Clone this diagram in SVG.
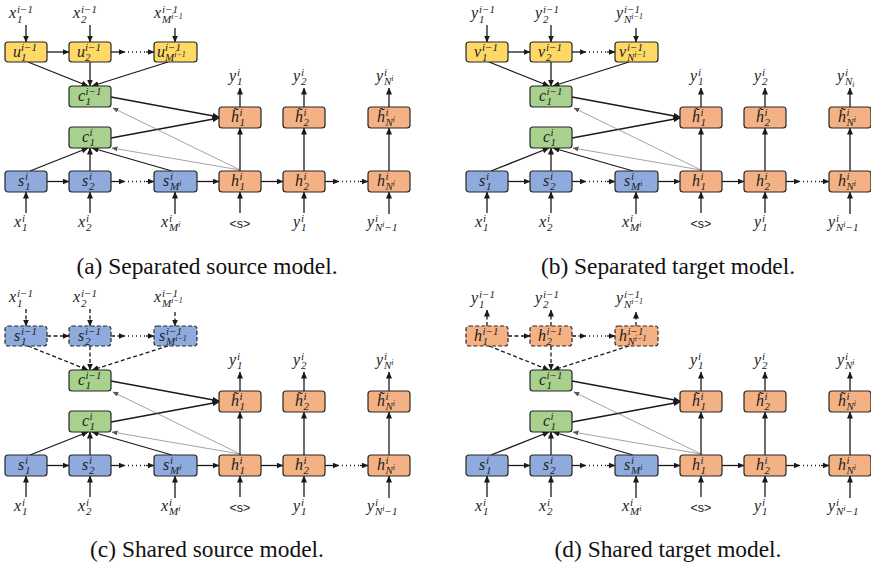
<svg xmlns="http://www.w3.org/2000/svg" width="871" height="568" viewBox="0 0 871 568">
<style>
  .box { stroke: #262626; stroke-width: 1.2; }
  .dash { stroke-dasharray: 4 2.2; }
  .yel { fill: #FFD966; }
  .grn { fill: #A9D18E; }
  .blu { fill: #8FAADC; }
  .org { fill: #F4B183; }
  .m { font-family: "Liberation Serif", "DejaVu Serif", serif; font-style: italic; font-size: 16px; fill: #222; }
  .s { font-size: 11px; }
  .t { font-size: 8px; }
  .sans { font-family: "Liberation Sans", Arial, sans-serif; font-size: 12.5px; fill: #222; }
  .cap { font-family: "Liberation Serif", "Times New Roman", serif; font-size: 23.4px; fill: #111; }
  .e { stroke: #1a1a1a; stroke-width: 1.3; fill: none; marker-end: url(#ah); }
  .ed { stroke: #1a1a1a; stroke-width: 1.3; fill: none; stroke-dasharray: 4 2.5; marker-end: url(#ah); }
  .th { stroke: #666; stroke-width: 0.6; fill: none; marker-end: url(#ahs); }
  .dot { stroke: #1a1a1a; stroke-width: 1.3; fill: none; stroke-dasharray: 1 3; }
</style>
<defs>
  <marker id="ah" markerWidth="7" markerHeight="6" refX="6.5" refY="3" orient="auto" markerUnits="userSpaceOnUse">
    <path d="M0,0 L7,3 L0,6 z" fill="#1a1a1a"/>
  </marker>
  <marker id="ahs" markerWidth="6" markerHeight="5" refX="5.5" refY="2.5" orient="auto" markerUnits="userSpaceOnUse">
    <path d="M0,0 L6,2.5 L0,5 z" fill="#555"/>
  </marker>
</defs>
<rect width="871" height="568" fill="#fff"/>

<!-- ===== (a) Separated source model ===== -->
<g id="panel-a">
  <g id="a-edges">
    <line class="e" x1="26" y1="25" x2="26" y2="42"/>
    <line class="e" x1="90" y1="25" x2="90" y2="42"/>
    <line class="e" x1="175" y1="28" x2="175" y2="42"/>
    <line class="e" x1="47" y1="52" x2="69" y2="52"/>
    <line class="e" x1="111" y1="52" x2="125" y2="52"/>
    <line class="dot" x1="128" y1="52" x2="146" y2="52"/>
    <line class="e" x1="146" y1="52" x2="154" y2="52"/>
    <line class="e" x1="28" y1="62" x2="88" y2="86"/>
    <line class="e" x1="90" y1="62" x2="90" y2="86"/>
    <line class="e" x1="168" y1="62" x2="92" y2="86"/>
    <line class="e" x1="111" y1="97" x2="219" y2="117"/>
    <line class="e" x1="111" y1="138" x2="219" y2="118"/>
    <line class="th" x1="240" y1="170" x2="113" y2="108"/>
    <line class="th" x1="240" y1="170" x2="112" y2="148"/>
    <line class="e" x1="30" y1="171" x2="88" y2="148"/>
    <line class="e" x1="90" y1="171" x2="90" y2="148"/>
    <line class="e" x1="172" y1="171" x2="92" y2="148"/>
    <line class="e" x1="47" y1="181.5" x2="69" y2="181.5"/>
    <line class="e" x1="111" y1="181.5" x2="125" y2="181.5"/>
    <line class="dot" x1="128" y1="181.5" x2="146" y2="181.5"/>
    <line class="e" x1="146" y1="181.5" x2="154" y2="181.5"/>
    <line class="e" x1="197" y1="181.5" x2="219" y2="181.5"/>
    <line class="e" x1="261" y1="181.5" x2="283" y2="181.5"/>
    <line class="e" x1="325" y1="181.5" x2="339" y2="181.5"/>
    <line class="dot" x1="342" y1="181.5" x2="360" y2="181.5"/>
    <line class="e" x1="360" y1="181.5" x2="368" y2="181.5"/>
    <line class="e" x1="240" y1="171" x2="240" y2="128"/>
    <line class="e" x1="304" y1="171" x2="304" y2="128"/>
    <line class="e" x1="389" y1="171" x2="389" y2="128"/>
    <line class="e" x1="240" y1="107" x2="240" y2="88"/>
    <line class="e" x1="304" y1="107" x2="304" y2="88"/>
    <line class="e" x1="389" y1="107" x2="389" y2="88"/>
    <line class="e" x1="26" y1="213" x2="26" y2="192"/>
    <line class="e" x1="90" y1="213" x2="90" y2="192"/>
    <line class="e" x1="175" y1="214" x2="175" y2="192"/>
    <line class="e" x1="240" y1="213" x2="240" y2="192"/>
    <line class="e" x1="304" y1="213" x2="304" y2="192"/>
    <line class="e" x1="389" y1="214" x2="389" y2="192"/>
  </g>
  <g id="a-u1"><rect class="box yel" x="5" y="42" width="42" height="20" rx="3"/><text class="m" x="13" y="57">u<tspan class="s" x="21" y="50.5">i−1</tspan><tspan class="s" x="21" y="60.5">1</tspan></text></g>
  <g id="a-u2"><rect class="box yel" x="69" y="42" width="42" height="20" rx="3"/><text class="m" x="77" y="57">u<tspan class="s" x="85" y="50.5">i−1</tspan><tspan class="s" x="85" y="60.5">2</tspan></text></g>
  <g id="a-u3"><rect class="box yel" x="154" y="42" width="43" height="20" rx="3"/><text class="m" x="157" y="57">u<tspan class="s" x="165" y="50.5">i−1</tspan><tspan class="s" x="165" y="60.5">M</tspan><tspan class="t" y="57">i−1</tspan></text></g>
  <g id="a-cp"><rect class="box grn" x="69" y="86" width="42" height="21" rx="3"/><text class="m" x="78" y="101">c<tspan class="s" x="85.5" y="94.5">i−1</tspan><tspan class="s" x="85.5" y="104.5">1</tspan></text></g>
  <g id="a-ht1"><rect class="box org" x="219" y="107" width="42" height="21" rx="3"/><text class="m" x="231" y="122">h&#x303;<tspan class="s" x="239.5" y="115.5">i</tspan><tspan class="s" x="239.5" y="125.5">1</tspan></text></g>
  <g id="a-ht2"><rect class="box org" x="283" y="107" width="42" height="21" rx="3"/><text class="m" x="295" y="122">h&#x303;<tspan class="s" x="303.5" y="115.5">i</tspan><tspan class="s" x="303.5" y="125.5">2</tspan></text></g>
  <g id="a-ht3"><rect class="box org" x="368" y="107" width="42" height="21" rx="3"/><text class="m" x="377" y="122">h&#x303;<tspan class="s" x="385.5" y="115.5">i</tspan><tspan class="s" x="385.5" y="125.5">N</tspan><tspan class="t" y="122">i</tspan></text></g>
  <g id="a-cc"><rect class="box grn" x="69" y="127" width="42" height="21" rx="3"/><text class="m" x="82" y="142">c<tspan class="s" x="89.5" y="135.5">i</tspan><tspan class="s" x="89.5" y="145.5">1</tspan></text></g>
  <g id="a-s1"><rect class="box blu" x="5" y="171" width="42" height="21" rx="3"/><text class="m" x="18" y="186">s<tspan class="s" x="25" y="179.5">i</tspan><tspan class="s" x="25" y="189.5">1</tspan></text></g>
  <g id="a-s2"><rect class="box blu" x="69" y="171" width="42" height="21" rx="3"/><text class="m" x="82" y="186">s<tspan class="s" x="89" y="179.5">i</tspan><tspan class="s" x="89" y="189.5">2</tspan></text></g>
  <g id="a-s3"><rect class="box blu" x="154" y="171" width="43" height="21" rx="3"/><text class="m" x="163" y="186">s<tspan class="s" x="170" y="179.5">i</tspan><tspan class="s" x="170" y="189.5">M</tspan><tspan class="t" y="186">i</tspan></text></g>
  <g id="a-h1"><rect class="box org" x="219" y="171" width="42" height="21" rx="3"/><text class="m" x="231" y="186">h<tspan class="s" x="239.5" y="179.5">i</tspan><tspan class="s" x="239.5" y="189.5">1</tspan></text></g>
  <g id="a-h2"><rect class="box org" x="283" y="171" width="42" height="21" rx="3"/><text class="m" x="295" y="186">h<tspan class="s" x="303.5" y="179.5">i</tspan><tspan class="s" x="303.5" y="189.5">2</tspan></text></g>
  <g id="a-h3"><rect class="box org" x="368" y="171" width="42" height="21" rx="3"/><text class="m" x="377" y="186">h<tspan class="s" x="385.5" y="179.5">i</tspan><tspan class="s" x="385.5" y="189.5">N</tspan><tspan class="t" y="186">i</tspan></text></g>
  <g id="a-labels">
    <text class="m" x="9" y="18">x<tspan class="s" x="17" y="12.5">i−1</tspan><tspan class="s" x="17" y="22.5">1</tspan></text>
    <text class="m" x="73" y="18">x<tspan class="s" x="81" y="12.5">i−1</tspan><tspan class="s" x="81" y="22.5">2</tspan></text>
    <text class="m" x="154" y="18">x<tspan class="s" x="162" y="12.5">i−1</tspan><tspan class="s" x="162" y="22.5">M</tspan><tspan class="t" y="18.5">i−1</tspan></text>
    <text class="m" x="229" y="81">y<tspan class="s" x="237" y="75.5">i</tspan><tspan class="s" x="237" y="85">1</tspan></text>
    <text class="m" x="293" y="81">y<tspan class="s" x="301" y="75.5">i</tspan><tspan class="s" x="301" y="85">2</tspan></text>
    <text class="m" x="376" y="81">y<tspan class="s" x="384" y="75.5">i</tspan><tspan class="s" x="384" y="85">N</tspan><tspan class="t" y="81">i</tspan></text>
    <text class="m" x="14" y="227">x<tspan class="s" x="22" y="221.5">i</tspan><tspan class="s" x="22" y="231">1</tspan></text>
    <text class="m" x="78" y="227">x<tspan class="s" x="86" y="221.5">i</tspan><tspan class="s" x="86" y="231">2</tspan></text>
    <text class="m" x="161" y="227">x<tspan class="s" x="169" y="221.5">i</tspan><tspan class="s" x="169" y="231">M</tspan><tspan class="t" y="227">i</tspan></text>
    <text class="sans" x="240" y="228" text-anchor="middle">&lt;s&gt;</text>
    <text class="m" x="293" y="227">y<tspan class="s" x="301" y="221.5">i</tspan><tspan class="s" x="301" y="231">1</tspan></text>
    <text class="m" x="367" y="227">y<tspan class="s" x="375" y="221.5">i</tspan><tspan class="s" x="375" y="231">N</tspan><tspan class="t" y="227">i</tspan><tspan class="s" y="231">−1</tspan></text>
  </g>
  <text class="cap" x="207" y="274" text-anchor="middle">(a) Separated source model.</text>
</g>

<!-- ===== (b) Separated target model ===== -->
<g id="panel-b" transform="translate(461,0)">
  <g id="b-edges">
    <line class="e" x1="26" y1="25" x2="26" y2="42"/>
    <line class="e" x1="90" y1="25" x2="90" y2="42"/>
    <line class="e" x1="175" y1="28" x2="175" y2="42"/>
    <line class="e" x1="47" y1="52" x2="69" y2="52"/>
    <line class="e" x1="111" y1="52" x2="125" y2="52"/>
    <line class="dot" x1="128" y1="52" x2="146" y2="52"/>
    <line class="e" x1="146" y1="52" x2="154" y2="52"/>
    <line class="e" x1="28" y1="62" x2="88" y2="86"/>
    <line class="e" x1="90" y1="62" x2="90" y2="86"/>
    <line class="e" x1="168" y1="62" x2="92" y2="86"/>
    <line class="e" x1="111" y1="97" x2="219" y2="117"/>
    <line class="e" x1="111" y1="138" x2="219" y2="118"/>
    <line class="th" x1="240" y1="170" x2="113" y2="108"/>
    <line class="th" x1="240" y1="170" x2="112" y2="148"/>
    <line class="e" x1="30" y1="171" x2="88" y2="148"/>
    <line class="e" x1="90" y1="171" x2="90" y2="148"/>
    <line class="e" x1="172" y1="171" x2="92" y2="148"/>
    <line class="e" x1="47" y1="181.5" x2="69" y2="181.5"/>
    <line class="e" x1="111" y1="181.5" x2="125" y2="181.5"/>
    <line class="dot" x1="128" y1="181.5" x2="146" y2="181.5"/>
    <line class="e" x1="146" y1="181.5" x2="154" y2="181.5"/>
    <line class="e" x1="197" y1="181.5" x2="219" y2="181.5"/>
    <line class="e" x1="261" y1="181.5" x2="283" y2="181.5"/>
    <line class="e" x1="325" y1="181.5" x2="339" y2="181.5"/>
    <line class="dot" x1="342" y1="181.5" x2="360" y2="181.5"/>
    <line class="e" x1="360" y1="181.5" x2="368" y2="181.5"/>
    <line class="e" x1="240" y1="171" x2="240" y2="128"/>
    <line class="e" x1="304" y1="171" x2="304" y2="128"/>
    <line class="e" x1="389" y1="171" x2="389" y2="128"/>
    <line class="e" x1="240" y1="107" x2="240" y2="88"/>
    <line class="e" x1="304" y1="107" x2="304" y2="88"/>
    <line class="e" x1="389" y1="107" x2="389" y2="88"/>
    <line class="e" x1="26" y1="213" x2="26" y2="192"/>
    <line class="e" x1="90" y1="213" x2="90" y2="192"/>
    <line class="e" x1="175" y1="214" x2="175" y2="192"/>
    <line class="e" x1="240" y1="213" x2="240" y2="192"/>
    <line class="e" x1="304" y1="213" x2="304" y2="192"/>
    <line class="e" x1="389" y1="214" x2="389" y2="192"/>
  </g>
  <g id="b-v1"><rect class="box yel" x="5" y="42" width="42" height="20" rx="3"/><text class="m" x="13" y="57">v<tspan class="s" x="21" y="50.5">i−1</tspan><tspan class="s" x="21" y="60.5">1</tspan></text></g>
  <g id="b-v2"><rect class="box yel" x="69" y="42" width="42" height="20" rx="3"/><text class="m" x="77" y="57">v<tspan class="s" x="85" y="50.5">i−1</tspan><tspan class="s" x="85" y="60.5">2</tspan></text></g>
  <g id="b-v3"><rect class="box yel" x="154" y="42" width="43" height="20" rx="3"/><text class="m" x="158" y="57">v<tspan class="s" x="166" y="50.5">i−1</tspan><tspan class="s" x="166" y="60.5">N</tspan><tspan class="t" y="57">i−1</tspan></text></g>
  <g id="b-cp"><rect class="box grn" x="69" y="86" width="42" height="21" rx="3"/><text class="m" x="78" y="101">c<tspan class="s" x="85.5" y="94.5">i−1</tspan><tspan class="s" x="85.5" y="104.5">1</tspan></text></g>
  <g id="b-ht1"><rect class="box org" x="219" y="107" width="42" height="21" rx="3"/><text class="m" x="231" y="122">h&#x303;<tspan class="s" x="239.5" y="115.5">i</tspan><tspan class="s" x="239.5" y="125.5">1</tspan></text></g>
  <g id="b-ht2"><rect class="box org" x="283" y="107" width="42" height="21" rx="3"/><text class="m" x="295" y="122">h&#x303;<tspan class="s" x="303.5" y="115.5">i</tspan><tspan class="s" x="303.5" y="125.5">2</tspan></text></g>
  <g id="b-ht3"><rect class="box org" x="368" y="107" width="42" height="21" rx="3"/><text class="m" x="377" y="122">h&#x303;<tspan class="s" x="385.5" y="115.5">i</tspan><tspan class="s" x="385.5" y="125.5">N</tspan><tspan class="t" y="122">i</tspan></text></g>
  <g id="b-cc"><rect class="box grn" x="69" y="127" width="42" height="21" rx="3"/><text class="m" x="82" y="142">c<tspan class="s" x="89.5" y="135.5">i</tspan><tspan class="s" x="89.5" y="145.5">1</tspan></text></g>
  <g id="b-s1"><rect class="box blu" x="5" y="171" width="42" height="21" rx="3"/><text class="m" x="18" y="186">s<tspan class="s" x="25" y="179.5">i</tspan><tspan class="s" x="25" y="189.5">1</tspan></text></g>
  <g id="b-s2"><rect class="box blu" x="69" y="171" width="42" height="21" rx="3"/><text class="m" x="82" y="186">s<tspan class="s" x="89" y="179.5">i</tspan><tspan class="s" x="89" y="189.5">2</tspan></text></g>
  <g id="b-s3"><rect class="box blu" x="154" y="171" width="43" height="21" rx="3"/><text class="m" x="163" y="186">s<tspan class="s" x="170" y="179.5">i</tspan><tspan class="s" x="170" y="189.5">M</tspan><tspan class="t" y="186">i</tspan></text></g>
  <g id="b-h1"><rect class="box org" x="219" y="171" width="42" height="21" rx="3"/><text class="m" x="231" y="186">h<tspan class="s" x="239.5" y="179.5">i</tspan><tspan class="s" x="239.5" y="189.5">1</tspan></text></g>
  <g id="b-h2"><rect class="box org" x="283" y="171" width="42" height="21" rx="3"/><text class="m" x="295" y="186">h<tspan class="s" x="303.5" y="179.5">i</tspan><tspan class="s" x="303.5" y="189.5">2</tspan></text></g>
  <g id="b-h3"><rect class="box org" x="368" y="171" width="42" height="21" rx="3"/><text class="m" x="377" y="186">h<tspan class="s" x="385.5" y="179.5">i</tspan><tspan class="s" x="385.5" y="189.5">N</tspan><tspan class="t" y="186">i</tspan></text></g>
  <g id="b-labels">
    <text class="m" x="10" y="18">y<tspan class="s" x="18" y="12.5">i−1</tspan><tspan class="s" x="18" y="22.5">1</tspan></text>
    <text class="m" x="74" y="18">y<tspan class="s" x="82" y="12.5">i−1</tspan><tspan class="s" x="82" y="22.5">2</tspan></text>
    <text class="m" x="155" y="18">y<tspan class="s" x="163" y="12.5">i−1</tspan><tspan class="s" x="163" y="22.5">N</tspan><tspan class="t" y="18.5">i−1</tspan></text>
    <text class="m" x="229" y="81">y<tspan class="s" x="237" y="75.5">i</tspan><tspan class="s" x="237" y="85">1</tspan></text>
    <text class="m" x="293" y="81">y<tspan class="s" x="301" y="75.5">i</tspan><tspan class="s" x="301" y="85">2</tspan></text>
    <text class="m" x="376" y="81">y<tspan class="s" x="384" y="75.5">i</tspan><tspan class="s" x="384" y="85">N</tspan><tspan class="t" y="87">i</tspan></text>
    <text class="m" x="14" y="227">x<tspan class="s" x="22" y="221.5">i</tspan><tspan class="s" x="22" y="231">1</tspan></text>
    <text class="m" x="78" y="227">x<tspan class="s" x="86" y="221.5">i</tspan><tspan class="s" x="86" y="231">2</tspan></text>
    <text class="m" x="161" y="227">x<tspan class="s" x="169" y="221.5">i</tspan><tspan class="s" x="169" y="231">M</tspan><tspan class="t" y="227">i</tspan></text>
    <text class="sans" x="240" y="228" text-anchor="middle">&lt;s&gt;</text>
    <text class="m" x="293" y="227">y<tspan class="s" x="301" y="221.5">i</tspan><tspan class="s" x="301" y="231">1</tspan></text>
    <text class="m" x="367" y="227">y<tspan class="s" x="375" y="221.5">i</tspan><tspan class="s" x="375" y="231">N</tspan><tspan class="t" y="227">i</tspan><tspan class="s" y="231">−1</tspan></text>
  </g>
  <text class="cap" x="207" y="274" text-anchor="middle">(b) Separated target model.</text>
</g>

<!-- ===== (c) Shared source model ===== -->
<g id="panel-c" transform="translate(0,284)">
  <g id="c-edges">
    <line class="ed" x1="26" y1="25" x2="26" y2="42"/>
    <line class="ed" x1="90" y1="25" x2="90" y2="42"/>
    <line class="ed" x1="175" y1="28" x2="175" y2="42"/>
    <line class="ed" x1="47" y1="52" x2="69" y2="52"/>
    <line class="ed" x1="111" y1="52" x2="125" y2="52"/>
    <line class="dot" x1="128" y1="52" x2="146" y2="52"/>
    <line class="e" x1="146" y1="52" x2="154" y2="52"/>
    <line class="ed" x1="28" y1="62" x2="88" y2="86"/>
    <line class="ed" x1="90" y1="62" x2="90" y2="86"/>
    <line class="ed" x1="168" y1="62" x2="92" y2="86"/>
    <line class="e" x1="111" y1="97" x2="219" y2="117"/>
    <line class="e" x1="111" y1="138" x2="219" y2="118"/>
    <line class="th" x1="240" y1="170" x2="113" y2="108"/>
    <line class="th" x1="240" y1="170" x2="112" y2="148"/>
    <line class="e" x1="30" y1="171" x2="88" y2="148"/>
    <line class="e" x1="90" y1="171" x2="90" y2="148"/>
    <line class="e" x1="172" y1="171" x2="92" y2="148"/>
    <line class="e" x1="47" y1="181.5" x2="69" y2="181.5"/>
    <line class="e" x1="111" y1="181.5" x2="125" y2="181.5"/>
    <line class="dot" x1="128" y1="181.5" x2="146" y2="181.5"/>
    <line class="e" x1="146" y1="181.5" x2="154" y2="181.5"/>
    <line class="e" x1="197" y1="181.5" x2="219" y2="181.5"/>
    <line class="e" x1="261" y1="181.5" x2="283" y2="181.5"/>
    <line class="e" x1="325" y1="181.5" x2="339" y2="181.5"/>
    <line class="dot" x1="342" y1="181.5" x2="360" y2="181.5"/>
    <line class="e" x1="360" y1="181.5" x2="368" y2="181.5"/>
    <line class="e" x1="240" y1="171" x2="240" y2="128"/>
    <line class="e" x1="304" y1="171" x2="304" y2="128"/>
    <line class="e" x1="389" y1="171" x2="389" y2="128"/>
    <line class="e" x1="240" y1="107" x2="240" y2="88"/>
    <line class="e" x1="304" y1="107" x2="304" y2="88"/>
    <line class="e" x1="389" y1="107" x2="389" y2="88"/>
    <line class="e" x1="26" y1="213" x2="26" y2="192"/>
    <line class="e" x1="90" y1="213" x2="90" y2="192"/>
    <line class="e" x1="175" y1="214" x2="175" y2="192"/>
    <line class="e" x1="240" y1="213" x2="240" y2="192"/>
    <line class="e" x1="304" y1="213" x2="304" y2="192"/>
    <line class="e" x1="389" y1="214" x2="389" y2="192"/>
  </g>
  <g id="c-sp1"><rect class="box blu dash" x="5" y="42" width="42" height="20" rx="3"/><text class="m" x="14" y="57">s<tspan class="s" x="21" y="50.5">i−1</tspan><tspan class="s" x="21" y="60.5">1</tspan></text></g>
  <g id="c-sp2"><rect class="box blu dash" x="69" y="42" width="42" height="20" rx="3"/><text class="m" x="78" y="57">s<tspan class="s" x="85" y="50.5">i−1</tspan><tspan class="s" x="85" y="60.5">2</tspan></text></g>
  <g id="c-sp3"><rect class="box blu dash" x="154" y="42" width="43" height="20" rx="3"/><text class="m" x="159" y="57">s<tspan class="s" x="166" y="50.5">i−1</tspan><tspan class="s" x="166" y="60.5">M</tspan><tspan class="t" y="57">i−1</tspan></text></g>
  <g id="c-cp"><rect class="box grn" x="69" y="86" width="42" height="21" rx="3"/><text class="m" x="78" y="101">c<tspan class="s" x="85.5" y="94.5">i−1</tspan><tspan class="s" x="85.5" y="104.5">1</tspan></text></g>
  <g id="c-ht1"><rect class="box org" x="219" y="107" width="42" height="21" rx="3"/><text class="m" x="231" y="122">h&#x303;<tspan class="s" x="239.5" y="115.5">i</tspan><tspan class="s" x="239.5" y="125.5">1</tspan></text></g>
  <g id="c-ht2"><rect class="box org" x="283" y="107" width="42" height="21" rx="3"/><text class="m" x="295" y="122">h&#x303;<tspan class="s" x="303.5" y="115.5">i</tspan><tspan class="s" x="303.5" y="125.5">2</tspan></text></g>
  <g id="c-ht3"><rect class="box org" x="368" y="107" width="42" height="21" rx="3"/><text class="m" x="377" y="122">h&#x303;<tspan class="s" x="385.5" y="115.5">i</tspan><tspan class="s" x="385.5" y="125.5">N</tspan><tspan class="t" y="122">i</tspan></text></g>
  <g id="c-cc"><rect class="box grn" x="69" y="127" width="42" height="21" rx="3"/><text class="m" x="82" y="142">c<tspan class="s" x="89.5" y="135.5">i</tspan><tspan class="s" x="89.5" y="145.5">1</tspan></text></g>
  <g id="c-s1"><rect class="box blu" x="5" y="171" width="42" height="21" rx="3"/><text class="m" x="18" y="186">s<tspan class="s" x="25" y="179.5">i</tspan><tspan class="s" x="25" y="189.5">1</tspan></text></g>
  <g id="c-s2"><rect class="box blu" x="69" y="171" width="42" height="21" rx="3"/><text class="m" x="82" y="186">s<tspan class="s" x="89" y="179.5">i</tspan><tspan class="s" x="89" y="189.5">2</tspan></text></g>
  <g id="c-s3"><rect class="box blu" x="154" y="171" width="43" height="21" rx="3"/><text class="m" x="163" y="186">s<tspan class="s" x="170" y="179.5">i</tspan><tspan class="s" x="170" y="189.5">M</tspan><tspan class="t" y="186">i</tspan></text></g>
  <g id="c-h1"><rect class="box org" x="219" y="171" width="42" height="21" rx="3"/><text class="m" x="231" y="186">h<tspan class="s" x="239.5" y="179.5">i</tspan><tspan class="s" x="239.5" y="189.5">1</tspan></text></g>
  <g id="c-h2"><rect class="box org" x="283" y="171" width="42" height="21" rx="3"/><text class="m" x="295" y="186">h<tspan class="s" x="303.5" y="179.5">i</tspan><tspan class="s" x="303.5" y="189.5">2</tspan></text></g>
  <g id="c-h3"><rect class="box org" x="368" y="171" width="42" height="21" rx="3"/><text class="m" x="377" y="186">h<tspan class="s" x="385.5" y="179.5">i</tspan><tspan class="s" x="385.5" y="189.5">N</tspan><tspan class="t" y="186">i</tspan></text></g>
  <g id="c-labels">
    <text class="m" x="9" y="18">x<tspan class="s" x="17" y="12.5">i−1</tspan><tspan class="s" x="17" y="22.5">1</tspan></text>
    <text class="m" x="73" y="18">x<tspan class="s" x="81" y="12.5">i−1</tspan><tspan class="s" x="81" y="22.5">2</tspan></text>
    <text class="m" x="154" y="18">x<tspan class="s" x="162" y="12.5">i−1</tspan><tspan class="s" x="162" y="22.5">M</tspan><tspan class="t" y="18.5">i−1</tspan></text>
    <text class="m" x="229" y="81">y<tspan class="s" x="237" y="75.5">i</tspan><tspan class="s" x="237" y="85">1</tspan></text>
    <text class="m" x="293" y="81">y<tspan class="s" x="301" y="75.5">i</tspan><tspan class="s" x="301" y="85">2</tspan></text>
    <text class="m" x="376" y="81">y<tspan class="s" x="384" y="75.5">i</tspan><tspan class="s" x="384" y="85">N</tspan><tspan class="t" y="81">i</tspan></text>
    <text class="m" x="14" y="227">x<tspan class="s" x="22" y="221.5">i</tspan><tspan class="s" x="22" y="231">1</tspan></text>
    <text class="m" x="78" y="227">x<tspan class="s" x="86" y="221.5">i</tspan><tspan class="s" x="86" y="231">2</tspan></text>
    <text class="m" x="161" y="227">x<tspan class="s" x="169" y="221.5">i</tspan><tspan class="s" x="169" y="231">M</tspan><tspan class="t" y="227">i</tspan></text>
    <text class="sans" x="240" y="228" text-anchor="middle">&lt;s&gt;</text>
    <text class="m" x="293" y="227">y<tspan class="s" x="301" y="221.5">i</tspan><tspan class="s" x="301" y="231">1</tspan></text>
    <text class="m" x="367" y="227">y<tspan class="s" x="375" y="221.5">i</tspan><tspan class="s" x="375" y="231">N</tspan><tspan class="t" y="227">i</tspan><tspan class="s" y="231">−1</tspan></text>
  </g>
  <text class="cap" x="207" y="273" text-anchor="middle">(c) Shared source model.</text>
</g>

<!-- ===== (d) Shared target model ===== -->
<g id="panel-d" transform="translate(461,284)">
  <g id="d-edges">
    <line class="ed" x1="26" y1="42" x2="26" y2="26"/>
    <line class="ed" x1="90" y1="42" x2="90" y2="26"/>
    <line class="ed" x1="175" y1="42" x2="175" y2="28"/>
    <line class="ed" x1="47" y1="52" x2="69" y2="52"/>
    <line class="ed" x1="111" y1="52" x2="125" y2="52"/>
    <line class="dot" x1="128" y1="52" x2="146" y2="52"/>
    <line class="e" x1="146" y1="52" x2="154" y2="52"/>
    <line class="ed" x1="28" y1="62" x2="88" y2="86"/>
    <line class="ed" x1="90" y1="62" x2="90" y2="86"/>
    <line class="ed" x1="168" y1="62" x2="92" y2="86"/>
    <line class="e" x1="111" y1="97" x2="219" y2="117"/>
    <line class="e" x1="111" y1="138" x2="219" y2="118"/>
    <line class="th" x1="240" y1="170" x2="113" y2="108"/>
    <line class="th" x1="240" y1="170" x2="112" y2="148"/>
    <line class="e" x1="30" y1="171" x2="88" y2="148"/>
    <line class="e" x1="90" y1="171" x2="90" y2="148"/>
    <line class="e" x1="172" y1="171" x2="92" y2="148"/>
    <line class="e" x1="47" y1="181.5" x2="69" y2="181.5"/>
    <line class="e" x1="111" y1="181.5" x2="125" y2="181.5"/>
    <line class="dot" x1="128" y1="181.5" x2="146" y2="181.5"/>
    <line class="e" x1="146" y1="181.5" x2="154" y2="181.5"/>
    <line class="e" x1="197" y1="181.5" x2="219" y2="181.5"/>
    <line class="e" x1="261" y1="181.5" x2="283" y2="181.5"/>
    <line class="e" x1="325" y1="181.5" x2="339" y2="181.5"/>
    <line class="dot" x1="342" y1="181.5" x2="360" y2="181.5"/>
    <line class="e" x1="360" y1="181.5" x2="368" y2="181.5"/>
    <line class="e" x1="240" y1="171" x2="240" y2="128"/>
    <line class="e" x1="304" y1="171" x2="304" y2="128"/>
    <line class="e" x1="389" y1="171" x2="389" y2="128"/>
    <line class="e" x1="240" y1="107" x2="240" y2="88"/>
    <line class="e" x1="304" y1="107" x2="304" y2="88"/>
    <line class="e" x1="389" y1="107" x2="389" y2="88"/>
    <line class="e" x1="26" y1="213" x2="26" y2="192"/>
    <line class="e" x1="90" y1="213" x2="90" y2="192"/>
    <line class="e" x1="175" y1="214" x2="175" y2="192"/>
    <line class="e" x1="240" y1="213" x2="240" y2="192"/>
    <line class="e" x1="304" y1="213" x2="304" y2="192"/>
    <line class="e" x1="389" y1="214" x2="389" y2="192"/>
  </g>
  <g id="d-hp1"><rect class="box org dash" x="5" y="42" width="42" height="20" rx="3"/><text class="m" x="13" y="57">h<tspan class="s" x="21.5" y="50.5">i−1</tspan><tspan class="s" x="21.5" y="60.5">1</tspan></text></g>
  <g id="d-hp2"><rect class="box org dash" x="69" y="42" width="42" height="20" rx="3"/><text class="m" x="77" y="57">h<tspan class="s" x="85.5" y="50.5">i−1</tspan><tspan class="s" x="85.5" y="60.5">2</tspan></text></g>
  <g id="d-hp3"><rect class="box org dash" x="154" y="42" width="43" height="20" rx="3"/><text class="m" x="158" y="57">h<tspan class="s" x="166.5" y="50.5">i−1</tspan><tspan class="s" x="166.5" y="60.5">N</tspan><tspan class="t" y="57">i−1</tspan></text></g>
  <g id="d-cp"><rect class="box grn" x="69" y="86" width="42" height="21" rx="3"/><text class="m" x="78" y="101">c<tspan class="s" x="85.5" y="94.5">i−1</tspan><tspan class="s" x="85.5" y="104.5">1</tspan></text></g>
  <g id="d-ht1"><rect class="box org" x="219" y="107" width="42" height="21" rx="3"/><text class="m" x="231" y="122">h&#x303;<tspan class="s" x="239.5" y="115.5">i</tspan><tspan class="s" x="239.5" y="125.5">1</tspan></text></g>
  <g id="d-ht2"><rect class="box org" x="283" y="107" width="42" height="21" rx="3"/><text class="m" x="295" y="122">h&#x303;<tspan class="s" x="303.5" y="115.5">i</tspan><tspan class="s" x="303.5" y="125.5">2</tspan></text></g>
  <g id="d-ht3"><rect class="box org" x="368" y="107" width="42" height="21" rx="3"/><text class="m" x="377" y="122">h&#x303;<tspan class="s" x="385.5" y="115.5">i</tspan><tspan class="s" x="385.5" y="125.5">N</tspan><tspan class="t" y="122">i</tspan></text></g>
  <g id="d-cc"><rect class="box grn" x="69" y="127" width="42" height="21" rx="3"/><text class="m" x="82" y="142">c<tspan class="s" x="89.5" y="135.5">i</tspan><tspan class="s" x="89.5" y="145.5">1</tspan></text></g>
  <g id="d-s1"><rect class="box blu" x="5" y="171" width="42" height="21" rx="3"/><text class="m" x="18" y="186">s<tspan class="s" x="25" y="179.5">i</tspan><tspan class="s" x="25" y="189.5">1</tspan></text></g>
  <g id="d-s2"><rect class="box blu" x="69" y="171" width="42" height="21" rx="3"/><text class="m" x="82" y="186">s<tspan class="s" x="89" y="179.5">i</tspan><tspan class="s" x="89" y="189.5">2</tspan></text></g>
  <g id="d-s3"><rect class="box blu" x="154" y="171" width="43" height="21" rx="3"/><text class="m" x="163" y="186">s<tspan class="s" x="170" y="179.5">i</tspan><tspan class="s" x="170" y="189.5">M</tspan><tspan class="t" y="186">i</tspan></text></g>
  <g id="d-h1"><rect class="box org" x="219" y="171" width="42" height="21" rx="3"/><text class="m" x="231" y="186">h<tspan class="s" x="239.5" y="179.5">i</tspan><tspan class="s" x="239.5" y="189.5">1</tspan></text></g>
  <g id="d-h2"><rect class="box org" x="283" y="171" width="42" height="21" rx="3"/><text class="m" x="295" y="186">h<tspan class="s" x="303.5" y="179.5">i</tspan><tspan class="s" x="303.5" y="189.5">2</tspan></text></g>
  <g id="d-h3"><rect class="box org" x="368" y="171" width="42" height="21" rx="3"/><text class="m" x="377" y="186">h<tspan class="s" x="385.5" y="179.5">i</tspan><tspan class="s" x="385.5" y="189.5">N</tspan><tspan class="t" y="186">i</tspan></text></g>
  <g id="d-labels">
    <text class="m" x="10" y="19">y<tspan class="s" x="18" y="13.5">i−1</tspan><tspan class="s" x="18" y="23.5">1</tspan></text>
    <text class="m" x="74" y="19">y<tspan class="s" x="82" y="13.5">i−1</tspan><tspan class="s" x="82" y="23.5">2</tspan></text>
    <text class="m" x="155" y="19">y<tspan class="s" x="163" y="13.5">i−1</tspan><tspan class="s" x="163" y="23.5">N</tspan><tspan class="t" y="19.5">i−1</tspan></text>
    <text class="m" x="229" y="81">y<tspan class="s" x="237" y="75.5">i</tspan><tspan class="s" x="237" y="85">1</tspan></text>
    <text class="m" x="293" y="81">y<tspan class="s" x="301" y="75.5">i</tspan><tspan class="s" x="301" y="85">2</tspan></text>
    <text class="m" x="376" y="81">y<tspan class="s" x="384" y="75.5">i</tspan><tspan class="s" x="384" y="85">N</tspan><tspan class="t" y="81">i</tspan></text>
    <text class="m" x="14" y="227">x<tspan class="s" x="22" y="221.5">i</tspan><tspan class="s" x="22" y="231">1</tspan></text>
    <text class="m" x="78" y="227">x<tspan class="s" x="86" y="221.5">i</tspan><tspan class="s" x="86" y="231">2</tspan></text>
    <text class="m" x="161" y="227">x<tspan class="s" x="169" y="221.5">i</tspan><tspan class="s" x="169" y="231">M</tspan><tspan class="t" y="227">i</tspan></text>
    <text class="sans" x="240" y="228" text-anchor="middle">&lt;s&gt;</text>
    <text class="m" x="293" y="227">y<tspan class="s" x="301" y="221.5">i</tspan><tspan class="s" x="301" y="231">1</tspan></text>
    <text class="m" x="367" y="227">y<tspan class="s" x="375" y="221.5">i</tspan><tspan class="s" x="375" y="231">N</tspan><tspan class="t" y="227">i</tspan><tspan class="s" y="231">−1</tspan></text>
  </g>
  <text class="cap" x="207" y="273" text-anchor="middle">(d) Shared target model.</text>
</g>
</svg>
